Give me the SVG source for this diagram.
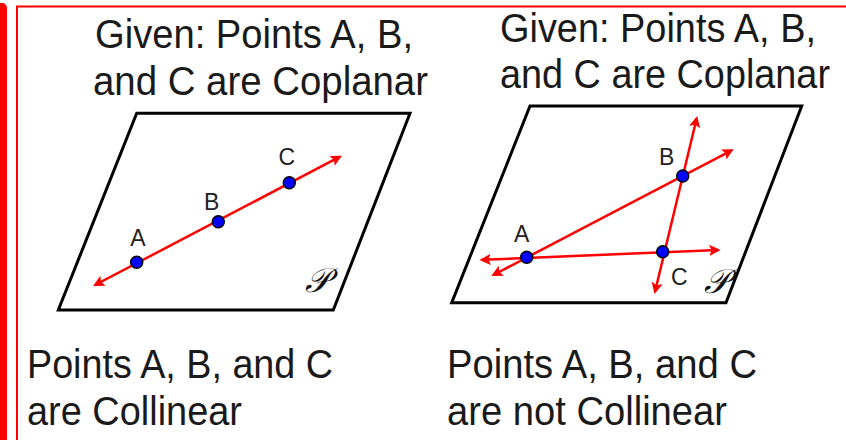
<svg xmlns="http://www.w3.org/2000/svg" width="846" height="440" viewBox="0 0 846 440">
<style>
.t{font-family:"Liberation Sans",Arial,sans-serif;font-size:41px;fill:#1a1a1a}
.lb{font-family:"Liberation Sans",Arial,sans-serif;font-size:23px;fill:#222;text-anchor:middle}
.pl{fill:#fff;stroke:#000;stroke-width:3;stroke-linejoin:miter}
.ln{stroke:#f00;stroke-width:2.5;fill:none;marker-start:url(#ah);marker-end:url(#ah)}
.pt{fill:#0000ff;stroke:#000;stroke-width:1.5}
.sp{font-family:"DejaVu Serif","Liberation Serif",serif;font-style:italic;font-size:34px;fill:#111;text-anchor:middle}
</style>
<defs>
<marker id="ah" viewBox="0 0 10 10" refX="8" refY="5" markerWidth="4.5" markerHeight="4.5" orient="auto-start-reverse" markerUnits="strokeWidth">
<path d="M0,0 L10,5 L0,10 L2,5 Z" fill="#f00"/>
</marker>
</defs>
<rect width="846" height="440" fill="#fff"/>
<g id="frame">
<rect x="-6" y="3" width="13" height="450" rx="5" fill="#f00"/>
<path d="M17,440 V6.5 H846" fill="none" stroke="#f00" stroke-width="2"/>
</g>
<g id="left-title">
<text class="t" x="95" y="48" textLength="318" lengthAdjust="spacingAndGlyphs">Given: Points A, B,</text>
<text class="t" x="93" y="95" textLength="335" lengthAdjust="spacingAndGlyphs">and C are Coplanar</text>
</g>
<g id="right-title">
<text class="t" x="500" y="42" textLength="316" lengthAdjust="spacingAndGlyphs">Given: Points A, B,</text>
<text class="t" x="500" y="88" textLength="330" lengthAdjust="spacingAndGlyphs">and C are Coplanar</text>
</g>
<g id="left-plane">
<polygon class="pl" points="136.7,113.3 410,113.3 333.3,310 58.3,310"/>
<text class="sp" x="317" y="292">𝒫</text>
</g>
<g id="right-plane">
<polygon class="pl" points="530,106 801.7,106 726,302.7 451.7,302.7"/>
<text class="sp" x="716" y="293">𝒫</text>
</g>
<g id="connectors">
<line class="ln" x1="95" y1="285" x2="340" y2="156.7"/>
<line class="ln" x1="493.3" y1="275" x2="731.7" y2="150.3"/>
<line class="ln" x1="481.7" y1="259.8" x2="718.3" y2="250"/>
<line class="ln" x1="655" y1="291.7" x2="696.7" y2="118.3"/>
</g>
<g id="left-A"><circle class="pt" cx="136.7" cy="262.3" r="6"/><text class="lb" x="138" y="246">A</text></g>
<g id="left-B"><circle class="pt" cx="218.3" cy="221.7" r="6"/><text class="lb" x="211.7" y="210">B</text></g>
<g id="left-C"><circle class="pt" cx="289.3" cy="182.7" r="6"/><text class="lb" x="286.7" y="165">C</text></g>
<g id="right-A"><circle class="pt" cx="526.7" cy="257.3" r="6"/><text class="lb" x="521.7" y="241.7">A</text></g>
<g id="right-B"><circle class="pt" cx="682.7" cy="176" r="6"/><text class="lb" x="666.7" y="165">B</text></g>
<g id="right-C"><circle class="pt" cx="662.7" cy="251.7" r="6"/><text class="lb" x="679.3" y="285">C</text></g>
<g id="bottom-left">
<text class="t" x="27" y="378" textLength="306" lengthAdjust="spacingAndGlyphs">Points A, B, and C</text>
<text class="t" x="27" y="425" textLength="215" lengthAdjust="spacingAndGlyphs">are Collinear</text>
</g>
<g id="bottom-right">
<text class="t" x="447" y="378" textLength="310" lengthAdjust="spacingAndGlyphs">Points A, B, and C</text>
<text class="t" x="447" y="425" textLength="280" lengthAdjust="spacingAndGlyphs">are not Collinear</text>
</g>
</svg>
